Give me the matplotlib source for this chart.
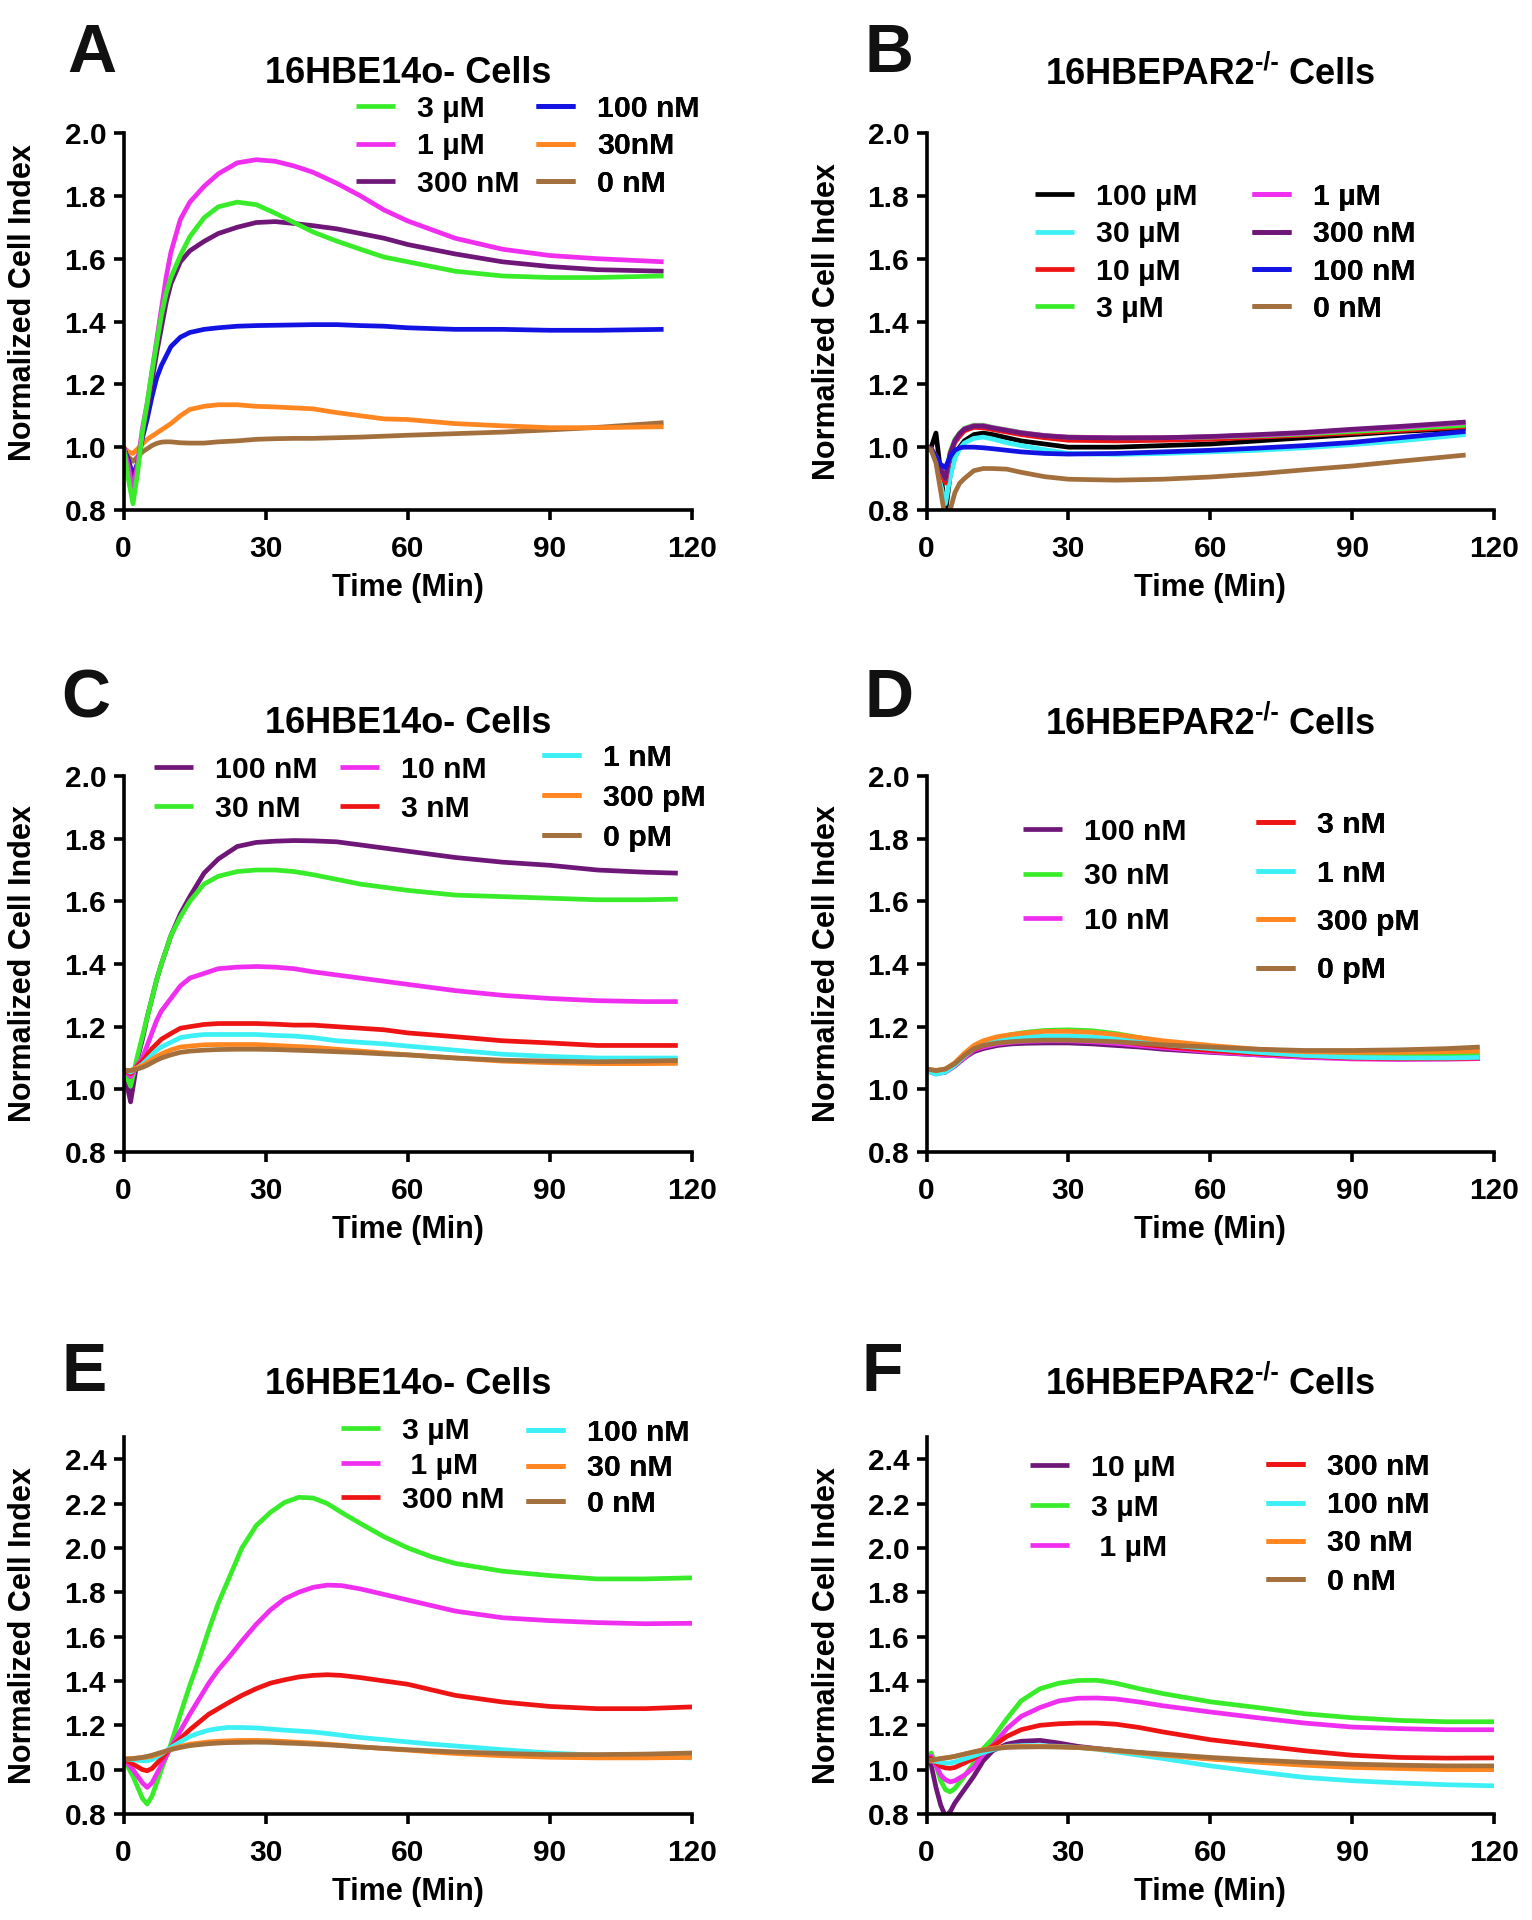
import matplotlib
matplotlib.use("Agg")
import matplotlib.pyplot as plt

plt.rcParams['font.family'] = ['Liberation Sans', 'DejaVu Sans']
plt.rcParams['font.weight'] = 'bold'
plt.rcParams['axes.labelweight'] = 'bold'

# ---------------- colours ----------------
GREEN = '#38ec2a'
MAGENTA = '#f02ef0'
PURPLE = '#6f1778'
BLUE = '#1212e2'
ORANGE = '#ff8620'
BROWN = '#a26f3d'
CYAN = '#3cf0f6'
RED = '#ee1414'
BLACK = '#000000'

# ---------------- Panel A ----------------
tA = [0, 1, 2, 3, 4, 5, 6, 7, 8, 9, 10, 12, 14, 17, 20, 24, 28, 32, 36, 40, 45, 50, 55, 60, 70, 80, 90, 100, 114]
A_labels = ['3 µM', '1 µM', '300 nM', '100 nM', '30nM', '0 nM']
A_colors = [GREEN, MAGENTA, PURPLE, BLUE, ORANGE, BROWN]
A_3uM = [1.00, 0.90, 0.82, 0.92, 1.05, 1.14, 1.24, 1.33, 1.42, 1.49, 1.54, 1.61, 1.67, 1.73, 1.765, 1.78, 1.772, 1.745, 1.715, 1.685, 1.656, 1.63, 1.605, 1.59, 1.56, 1.545, 1.54, 1.54, 1.545]
A_1uM = [1.00, 0.94, 0.86, 0.95, 1.06, 1.14, 1.24, 1.34, 1.44, 1.54, 1.62, 1.725, 1.78, 1.83, 1.87, 1.905, 1.915, 1.91, 1.895, 1.875, 1.84, 1.80, 1.755, 1.72, 1.665, 1.63, 1.61, 1.60, 1.59]
A_300nM = [1.00, 0.95, 0.89, 0.95, 1.04, 1.12, 1.21, 1.30, 1.38, 1.46, 1.52, 1.59, 1.625, 1.655, 1.68, 1.70, 1.715, 1.718, 1.712, 1.705, 1.695, 1.68, 1.665, 1.645, 1.615, 1.59, 1.575, 1.565, 1.56]
A_100nM = [1.00, 0.96, 0.91, 0.95, 1.03, 1.09, 1.16, 1.22, 1.26, 1.29, 1.32, 1.35, 1.365, 1.375, 1.38, 1.385, 1.387, 1.388, 1.389, 1.39, 1.39, 1.387, 1.385, 1.38, 1.375, 1.375, 1.372, 1.372, 1.375]
A_30nM = [1.00, 0.985, 0.98, 0.995, 1.01, 1.025, 1.035, 1.045, 1.055, 1.065, 1.075, 1.10, 1.12, 1.13, 1.135, 1.135, 1.13, 1.128, 1.125, 1.122, 1.11, 1.10, 1.09, 1.088, 1.075, 1.068, 1.062, 1.062, 1.065]
A_0nM = [1.00, 0.97, 0.955, 0.97, 0.985, 0.995, 1.005, 1.012, 1.016, 1.017, 1.017, 1.014, 1.013, 1.013, 1.017, 1.02, 1.025, 1.027, 1.028, 1.028, 1.03, 1.032, 1.035, 1.038, 1.043, 1.048, 1.055, 1.063, 1.078]

# ---------------- Panel B ----------------
tB = [0, 1, 2, 3, 4, 5, 6, 7, 8, 10, 12, 14, 17, 20, 25, 30, 40, 50, 60, 70, 80, 90, 100, 114]
B_labels = ['100 µM', '30 µM', '10 µM', '3 µM', '1 µM', '300 nM', '100 nM', '0 nM']
B_colors = [BLACK, CYAN, RED, GREEN, MAGENTA, PURPLE, BLUE, BROWN]
B_100uM = [1.0, 1.0, 1.045, 0.92, 0.79, 0.91, 0.97, 1.0, 1.02, 1.04, 1.045, 1.04, 1.03, 1.02, 1.01, 1.0, 1.0, 1.005, 1.01, 1.02, 1.03, 1.04, 1.05, 1.06]
B_30uM = [1.0, 0.99, 0.955, 0.88, 0.82, 0.905, 0.965, 0.995, 1.013, 1.028, 1.032, 1.026, 1.014, 1.005, 0.992, 0.98, 0.977, 0.98, 0.985, 0.99, 0.998, 1.008, 1.02, 1.04]
B_10uM = [1.0, 0.995, 0.97, 0.92, 0.886, 0.975, 1.015, 1.035, 1.052, 1.063, 1.062, 1.056, 1.048, 1.04, 1.03, 1.022, 1.02, 1.022, 1.025, 1.032, 1.038, 1.045, 1.053, 1.065]
B_3uM = [1.0, 0.995, 0.97, 0.93, 0.90, 0.985, 1.025, 1.045, 1.06, 1.07, 1.07, 1.063, 1.055, 1.047, 1.037, 1.032, 1.03, 1.03, 1.032, 1.036, 1.042, 1.05, 1.058, 1.07]
B_1uM = [1.0, 0.995, 0.97, 0.93, 0.90, 0.98, 1.02, 1.043, 1.058, 1.068, 1.068, 1.062, 1.054, 1.046, 1.037, 1.032, 1.03, 1.03, 1.033, 1.038, 1.045, 1.055, 1.063, 1.078]
B_300nM = [1.0, 0.995, 0.97, 0.93, 0.90, 0.98, 1.02, 1.043, 1.057, 1.067, 1.067, 1.061, 1.053, 1.045, 1.036, 1.031, 1.029, 1.03, 1.034, 1.04, 1.047, 1.057, 1.066, 1.08]
B_100nM = [1.0, 0.99, 0.97, 0.945, 0.935, 0.97, 0.99, 0.998, 1.0, 1.0, 0.998, 0.995, 0.99, 0.985, 0.98, 0.978, 0.98, 0.985, 0.99, 0.997, 1.005, 1.015, 1.03, 1.05]
B_0nM = [1.0, 0.99, 0.95, 0.86, 0.77, 0.80, 0.855, 0.885, 0.90, 0.925, 0.932, 0.932, 0.93, 0.92, 0.906, 0.898, 0.895, 0.898, 0.905, 0.915, 0.928, 0.94, 0.955, 0.975]

# ---------------- Panel C ----------------
tC = [0, 1.5, 3, 4, 5, 6, 7, 8, 10, 12, 14, 17, 20, 24, 28, 32, 36, 40, 45, 50, 55, 60, 70, 80, 90, 100, 110, 117]
C_labels = ['100 nM', '30 nM', '10 nM', '3 nM', '1 nM', '300 pM', '0 pM']
C_colors = [PURPLE, GREEN, MAGENTA, RED, CYAN, ORANGE, BROWN]
C_100nM = [1.065, 0.96, 1.10, 1.16, 1.23, 1.29, 1.35, 1.40, 1.49, 1.56, 1.615, 1.69, 1.735, 1.775, 1.788, 1.792, 1.794, 1.793, 1.79, 1.78, 1.77, 1.76, 1.74, 1.725, 1.715, 1.70, 1.693, 1.69]
C_30nM = [1.065, 1.01, 1.11, 1.17, 1.23, 1.29, 1.35, 1.40, 1.49, 1.55, 1.60, 1.655, 1.68, 1.695, 1.70, 1.70, 1.695, 1.685, 1.67, 1.655, 1.645, 1.635, 1.62, 1.615, 1.61, 1.605, 1.605, 1.607]
C_10nM = [1.065, 1.04, 1.08, 1.10, 1.14, 1.18, 1.22, 1.25, 1.29, 1.33, 1.355, 1.37, 1.385, 1.39, 1.392, 1.39, 1.385, 1.375, 1.365, 1.355, 1.345, 1.335, 1.315, 1.30, 1.29, 1.283, 1.28, 1.28]
C_3nM = [1.065, 1.05, 1.075, 1.09, 1.11, 1.13, 1.145, 1.16, 1.178, 1.195, 1.20, 1.207, 1.21, 1.21, 1.21, 1.208, 1.205, 1.205, 1.20, 1.195, 1.19, 1.18, 1.168, 1.155, 1.148, 1.14, 1.14, 1.14]
C_1nM = [1.065, 1.055, 1.07, 1.08, 1.095, 1.11, 1.125, 1.135, 1.15, 1.165, 1.17, 1.175, 1.175, 1.175, 1.175, 1.172, 1.17, 1.165, 1.155, 1.15, 1.145, 1.138, 1.125, 1.112, 1.105, 1.10, 1.10, 1.10]
C_300pM = [1.06, 1.06, 1.07, 1.075, 1.085, 1.095, 1.105, 1.113, 1.126, 1.135, 1.138, 1.142, 1.143, 1.143, 1.143, 1.14, 1.137, 1.134, 1.128, 1.122, 1.116, 1.11, 1.10, 1.09, 1.085, 1.082, 1.082, 1.083]
C_0pM = [1.06, 1.06, 1.065, 1.07, 1.077, 1.085, 1.093, 1.10, 1.11, 1.118, 1.122, 1.125, 1.127, 1.128, 1.128, 1.127, 1.125, 1.123, 1.12, 1.117, 1.113, 1.11, 1.10, 1.093, 1.09, 1.088, 1.09, 1.092]

# ---------------- Panel D ----------------
tD = [0, 2, 4, 6, 8, 10, 12, 15, 18, 21, 25, 30, 35, 40, 45, 50, 60, 70, 80, 90, 100, 110, 117]
D_labels = ['100 nM', '30 nM', '10 nM', '3 nM', '1 nM', '300 pM', '0 pM']
D_colors = [PURPLE, GREEN, MAGENTA, RED, CYAN, ORANGE, BROWN]
D_100nM = [1.06, 1.05, 1.055, 1.075, 1.10, 1.12, 1.13, 1.14, 1.145, 1.147, 1.148, 1.148, 1.145, 1.14, 1.135, 1.128, 1.118, 1.11, 1.103, 1.10, 1.098, 1.098, 1.10]
D_30nM = [1.06, 1.055, 1.06, 1.08, 1.11, 1.135, 1.15, 1.165, 1.175, 1.182, 1.188, 1.19, 1.187, 1.178, 1.165, 1.152, 1.135, 1.122, 1.115, 1.112, 1.11, 1.11, 1.11]
D_10nM = [1.06, 1.05, 1.055, 1.075, 1.10, 1.125, 1.135, 1.145, 1.15, 1.153, 1.155, 1.155, 1.152, 1.147, 1.14, 1.133, 1.12, 1.11, 1.102, 1.097, 1.095, 1.096, 1.098]
D_3nM = [1.06, 1.05, 1.057, 1.077, 1.105, 1.128, 1.14, 1.152, 1.158, 1.162, 1.163, 1.163, 1.16, 1.154, 1.145, 1.137, 1.124, 1.114, 1.106, 1.10, 1.098, 1.098, 1.10]
D_1nM = [1.06, 1.048, 1.055, 1.077, 1.105, 1.13, 1.145, 1.158, 1.165, 1.168, 1.17, 1.17, 1.167, 1.16, 1.152, 1.143, 1.13, 1.118, 1.108, 1.102, 1.10, 1.10, 1.102]
D_300pM = [1.065, 1.06, 1.065, 1.085, 1.115, 1.14, 1.155, 1.168, 1.175, 1.18, 1.185, 1.185, 1.182, 1.175, 1.165, 1.155, 1.14, 1.128, 1.12, 1.118, 1.118, 1.12, 1.122]
D_0pM = [1.065, 1.06, 1.065, 1.082, 1.108, 1.13, 1.14, 1.148, 1.152, 1.155, 1.157, 1.157, 1.155, 1.152, 1.147, 1.142, 1.135, 1.128, 1.124, 1.124, 1.126, 1.13, 1.135]

# ---------------- Panel E ----------------
tE = [0, 2, 4, 5, 6, 8, 10, 12, 14, 16, 18, 20, 22, 25, 28, 31, 34, 37, 40, 43, 46, 50, 55, 60, 65, 70, 80, 90, 100, 110, 120]
E_labels = ['3 µM', ' 1 µM', '300 nM', '100 nM', '30 nM', '0 nM']
E_colors = [GREEN, MAGENTA, RED, CYAN, ORANGE, BROWN]
E_3uM = [1.05, 0.97, 0.87, 0.845, 0.88, 1.0, 1.115, 1.25, 1.38, 1.50, 1.63, 1.75, 1.85, 2.0, 2.10, 2.16, 2.205, 2.228, 2.225, 2.20, 2.16, 2.11, 2.05, 2.0, 1.96, 1.93, 1.895, 1.875, 1.86, 1.86, 1.865]
E_1uM = [1.05, 1.0, 0.94, 0.92, 0.94, 1.02, 1.10, 1.175, 1.25, 1.32, 1.39, 1.45, 1.50, 1.58, 1.655, 1.72, 1.77, 1.80, 1.822, 1.832, 1.83, 1.815, 1.79, 1.765, 1.74, 1.715, 1.685, 1.672, 1.663, 1.658, 1.66]
E_300nM = [1.05, 1.025, 1.0, 0.995, 1.005, 1.05, 1.10, 1.14, 1.18, 1.215, 1.25, 1.275, 1.30, 1.335, 1.365, 1.39, 1.405, 1.418, 1.425, 1.428, 1.425, 1.415, 1.40, 1.385, 1.36, 1.335, 1.305, 1.285, 1.275, 1.275, 1.283]
E_100nM = [1.05, 1.045, 1.04, 1.04, 1.045, 1.07, 1.10, 1.125, 1.15, 1.165, 1.178, 1.185, 1.19, 1.19, 1.188, 1.183, 1.178, 1.174, 1.17, 1.163, 1.155, 1.145, 1.135, 1.125, 1.115, 1.107, 1.09, 1.075, 1.065, 1.058, 1.053]
E_30nM = [1.05, 1.05, 1.055, 1.057, 1.06, 1.075, 1.092, 1.105, 1.115, 1.12, 1.125, 1.128, 1.13, 1.132, 1.132, 1.13, 1.127, 1.123, 1.12, 1.115, 1.11, 1.103, 1.095, 1.088, 1.08, 1.073, 1.063, 1.056, 1.053, 1.053, 1.055]
E_0nM = [1.045, 1.05, 1.055, 1.06, 1.065, 1.078, 1.09, 1.10, 1.108, 1.113, 1.117, 1.12, 1.122, 1.123, 1.124, 1.123, 1.12, 1.118, 1.115, 1.112, 1.108, 1.102, 1.096, 1.09, 1.085, 1.08, 1.073, 1.068, 1.068, 1.07, 1.075]

# ---------------- Panel F ----------------
tF = [0, 1, 2, 3, 4, 5, 6, 8, 10, 12, 14, 17, 20, 24, 28, 32, 36, 40, 45, 50, 60, 70, 80, 90, 100, 110, 120]
F_labels = ['10 µM', '3 µM', ' 1 µM', '300 nM', '100 nM', '30 nM', '0 nM']
F_colors = [PURPLE, GREEN, MAGENTA, RED, CYAN, ORANGE, BROWN]
F_10uM = [1.05, 1.02, 0.92, 0.84, 0.79, 0.81, 0.85, 0.91, 0.97, 1.04, 1.085, 1.115, 1.128, 1.132, 1.12, 1.105, 1.095, 1.086, 1.076, 1.067, 1.05, 1.038, 1.027, 1.018, 1.012, 1.01, 1.01]
F_3uM = [1.05, 1.075, 1.02, 0.95, 0.91, 0.90, 0.915, 0.97, 1.03, 1.095, 1.14, 1.23, 1.31, 1.365, 1.39, 1.402, 1.403, 1.39, 1.365, 1.343, 1.306, 1.28, 1.252, 1.234, 1.222, 1.216, 1.216]
F_1uM = [1.05, 1.06, 1.02, 0.975, 0.955, 0.945, 0.95, 0.975, 1.01, 1.07, 1.11, 1.185, 1.24, 1.28, 1.31, 1.322, 1.323, 1.319, 1.305, 1.288, 1.26, 1.234, 1.21, 1.192, 1.185, 1.18, 1.18]
F_300nM = [1.05, 1.05, 1.03, 1.015, 1.008, 1.006, 1.01, 1.03, 1.05, 1.08, 1.105, 1.15, 1.18, 1.2, 1.207, 1.21, 1.21, 1.205, 1.19, 1.17, 1.135, 1.11, 1.085, 1.065, 1.055, 1.052, 1.053]
F_100nM = [1.045, 1.04, 1.037, 1.033, 1.03, 1.03, 1.035, 1.048, 1.062, 1.077, 1.09, 1.105, 1.108, 1.108, 1.105, 1.1, 1.092, 1.08, 1.065, 1.05, 1.017, 0.99, 0.965, 0.95, 0.94, 0.932, 0.927]
F_30nM = [1.037, 1.04, 1.045, 1.05, 1.053, 1.056, 1.06, 1.07, 1.08, 1.09, 1.097, 1.103, 1.105, 1.105, 1.103, 1.1, 1.093, 1.085, 1.075, 1.065, 1.048, 1.033, 1.02, 1.01, 1.005, 1.0, 1.0]
F_0nM = [1.04, 1.043, 1.047, 1.05, 1.053, 1.056, 1.06, 1.07, 1.08, 1.088, 1.094, 1.1, 1.102, 1.103, 1.102, 1.1, 1.095, 1.087, 1.078, 1.07, 1.055, 1.043, 1.033, 1.025, 1.02, 1.017, 1.017]

TITLE_WT = ['16HBE14o- Cells']
TITLE_KO = ['16HBEPAR2', '-/-', ' Cells']
XTICKS = [0, 30, 60, 90, 120]
YTICKS_LOW = [0.8, 1.0, 1.2, 1.4, 1.6, 1.8, 2.0]
YTICKS_HIGH = [0.8, 1.0, 1.2, 1.4, 1.6, 1.8, 2.0, 2.2, 2.4]

# ---------------- layout (pixels in a 1532x1920 canvas) ----------------
W, H = 1532, 1920
DPI = 100
LW = 3.4
TICK_FS = 21.5
LAB_FS = 22
LEG_FS = 21.8
TITLE_FS = 26
SUP_FS = 18
LETTER_FS = 49
PX = DPI / 72.0

fig = plt.figure(figsize=(W / DPI, H / DPI), dpi=DPI)


def rect(left, right, top, bottom):
    return [left / W, 1 - bottom / H, (right - left) / W, (bottom - top) / H]


panels = [
    dict(rect=rect(123.5, 692, 133, 510), t=tA, ys=[A_3uM, A_1uM, A_300nM, A_100nM, A_30nM, A_0nM],
         labels=A_labels, colors=A_colors, ylim=(0.8, 2.0), yticks=YTICKS_LOW, title=TITLE_WT,
         title_c=70, letter='A', letter_pos=(67, 48), first_on_top=True, ylab_shift=19,
         legend=[([0, 1, 2], 356, 109, 37.5), ([3, 4, 5], 536, 109, 37.5)]),
    dict(rect=rect(926.5, 1494, 133, 510), t=tB, ys=[B_100uM, B_30uM, B_10uM, B_3uM, B_1uM, B_300nM, B_100nM, B_0nM],
         labels=B_labels, colors=B_colors, ylim=(0.8, 2.0), yticks=YTICKS_LOW, title=TITLE_KO,
         title_c=71, letter='B', letter_pos=(865, 48), first_on_top=False, ylab_shift=0,
         legend=[([0, 1, 2, 3], 1035, 197, 37.3), ([4, 5, 6, 7], 1252, 197, 37.3)]),
    dict(rect=rect(123.5, 692, 776, 1152), t=tC, ys=[C_100nM, C_30nM, C_10nM, C_3nM, C_1nM, C_300pM, C_0pM],
         labels=C_labels, colors=C_colors, ylim=(0.8, 2.0), yticks=YTICKS_LOW, title=TITLE_WT,
         title_c=720, letter='C', letter_pos=(61, 693), first_on_top=False, ylab_shift=0,
         legend=[([0, 1], 154, 770, 39), ([2, 3], 340, 770, 39), ([4, 5, 6], 542, 757.5, 40)]),
    dict(rect=rect(926.5, 1494, 776, 1152), t=tD, ys=[D_100nM, D_30nM, D_10nM, D_3nM, D_1nM, D_300pM, D_0pM],
         labels=D_labels, colors=D_colors, ylim=(0.8, 2.0), yticks=YTICKS_LOW, title=TITLE_KO,
         title_c=721, letter='D', letter_pos=(865, 693), first_on_top=False, ylab_shift=0,
         legend=[([0, 1, 2], 1023, 832, 44.5), ([3, 4, 5, 6], 1256, 825, 48.5)]),
    dict(rect=rect(123.5, 692, 1437, 1814), t=tE, ys=[E_3uM, E_1uM, E_300nM, E_100nM, E_30nM, E_0nM],
         labels=E_labels, colors=E_colors, ylim=(0.8, 2.5), yticks=YTICKS_HIGH, title=TITLE_WT,
         title_c=1381, letter='E', letter_pos=(62, 1367), first_on_top=False, ylab_shift=0,
         legend=[([0, 1, 2], 341, 1431, 34.5), ([3, 4, 5], 526, 1433, 35.5)]),
    dict(rect=rect(926.5, 1494, 1437, 1814), t=tF, ys=[F_10uM, F_3uM, F_1uM, F_300nM, F_100nM, F_30nM, F_0nM],
         labels=F_labels, colors=F_colors, ylim=(0.8, 2.5), yticks=YTICKS_HIGH, title=TITLE_KO,
         title_c=1381, letter='F', letter_pos=(862, 1367), first_on_top=False, ylab_shift=0,
         legend=[([0, 1, 2], 1030, 1468, 40), ([3, 4, 5, 6], 1266, 1467, 38.2)]),
]

HL = 1.3
HTP = 0.72

axes = []
all_lines = []
for p in panels:
    ax = fig.add_axes(p['rect'])
    lines = []
    n = len(p['ys'])
    for i, (y, c, lab) in enumerate(zip(p['ys'], p['colors'], p['labels'])):
        z = 2 + (n - i if p['first_on_top'] else i) * 0.01
        ln, = ax.plot(p['t'], y, color=c, lw=LW, label=lab, zorder=z,
                      solid_joinstyle='round', solid_capstyle='butt')
        lines.append(ln)
    ax.set_xlim(0, 120)
    ax.set_ylim(*p['ylim'])
    ax.set_xticks(XTICKS)
    ax.set_yticks(p['yticks'])
    ax.set_yticklabels([f'{v:.1f}' for v in p['yticks']])
    for s in ['top', 'right']:
        ax.spines[s].set_visible(False)
    for s in ['left', 'bottom']:
        ax.spines[s].set_linewidth(2.6)
    ax.tick_params(axis='both', direction='out', length=7.5, width=2.6, labelsize=TICK_FS)
    ax.tick_params(axis='x', pad=10.5)
    ax.tick_params(axis='y', pad=5)
    for tl in ax.get_xticklabels() + ax.get_yticklabels():
        tl.set_fontweight('bold')
    ax.set_xlabel('Time (Min)', fontsize=LAB_FS, fontweight='bold')
    ax.set_ylabel('Normalized Cell Index', fontsize=LAB_FS, fontweight='bold')
    axh_px = (p['rect'][3]) * H
    axw_px = (p['rect'][2]) * W
    ax.xaxis.label.set_va('baseline')
    ax.xaxis.set_label_coords(0.5, -86 / axh_px)
    ax.yaxis.label.set_va('baseline')
    ax.yaxis.set_label_coords(-92 / axw_px, 0.5 + p['ylab_shift'] / axh_px)
    lx, lc = p['letter_pos']
    fig.text(lx / W, 1 - (lc + 0.358 * LETTER_FS * PX) / H, p['letter'],
             ha='left', va='baseline', fontsize=LETTER_FS, fontweight='bold', color='#111111')
    axes.append(ax)
    all_lines.append(lines)

fig.canvas.draw()
renderer = fig.canvas.get_renderer()

# titles (with a raised superscript for the knockout line)
for ax, p in zip(axes, panels):
    bb = ax.get_position()
    cx = (bb.x0 + bb.x1) / 2 * W
    base_px = p['title_c'] + 0.358 * TITLE_FS * PX
    parts = p['title']
    sizes = [TITLE_FS, SUP_FS, TITLE_FS][:len(parts)]
    raises = [0, 0.40 * TITLE_FS * PX, 0][:len(parts)]
    widths = []
    for s, fs in zip(parts, sizes):
        t = fig.text(0, 0, s, fontsize=fs, fontweight='bold')
        widths.append(t.get_window_extent(renderer).width)
        t.remove()
    x = cx - sum(widths) / 2
    for s, fs, r, w in zip(parts, sizes, raises, widths):
        fig.text(x / W, 1 - (base_px - r) / H, s, fontsize=fs, fontweight='bold',
                 ha='left', va='baseline')
        x += w

# measure legend row geometry
tmp_ax = axes[0]
l1 = tmp_ax.legend([all_lines[0][0]], ['100 nM'], fontsize=LEG_FS, borderpad=0, frameon=False,
                   handlelength=HL, handletextpad=HTP, labelspacing=0)
h1 = l1.get_window_extent(renderer).height
l2 = tmp_ax.legend([all_lines[0][0], all_lines[0][1]], ['100 nM', '0 nM'], fontsize=LEG_FS, borderpad=0,
                   frameon=False, handlelength=HL, handletextpad=HTP, labelspacing=0)
h2 = l2.get_window_extent(renderer).height
l2.remove()
pitch0 = h2 - h1
fs_px = LEG_FS * PX

for ax, p, lines in zip(axes, panels, all_lines):
    for idxs, xpx, ypx, spacing in p['legend']:
        ls = (spacing - pitch0) / fs_px
        top = ypx - h1 / 2
        leg = ax.legend([lines[i] for i in idxs], [p['labels'][i] for i in idxs],
                        loc='upper left', bbox_to_anchor=(xpx / W, 1 - top / H),
                        bbox_transform=fig.transFigure, frameon=False, borderpad=0,
                        borderaxespad=0, handlelength=HL, handletextpad=HTP,
                        labelspacing=ls, fontsize=LEG_FS,
                        prop={'weight': 'bold', 'size': LEG_FS})
        ax.add_artist(leg)

fig.savefig('out.png', dpi=DPI, facecolor='white')
